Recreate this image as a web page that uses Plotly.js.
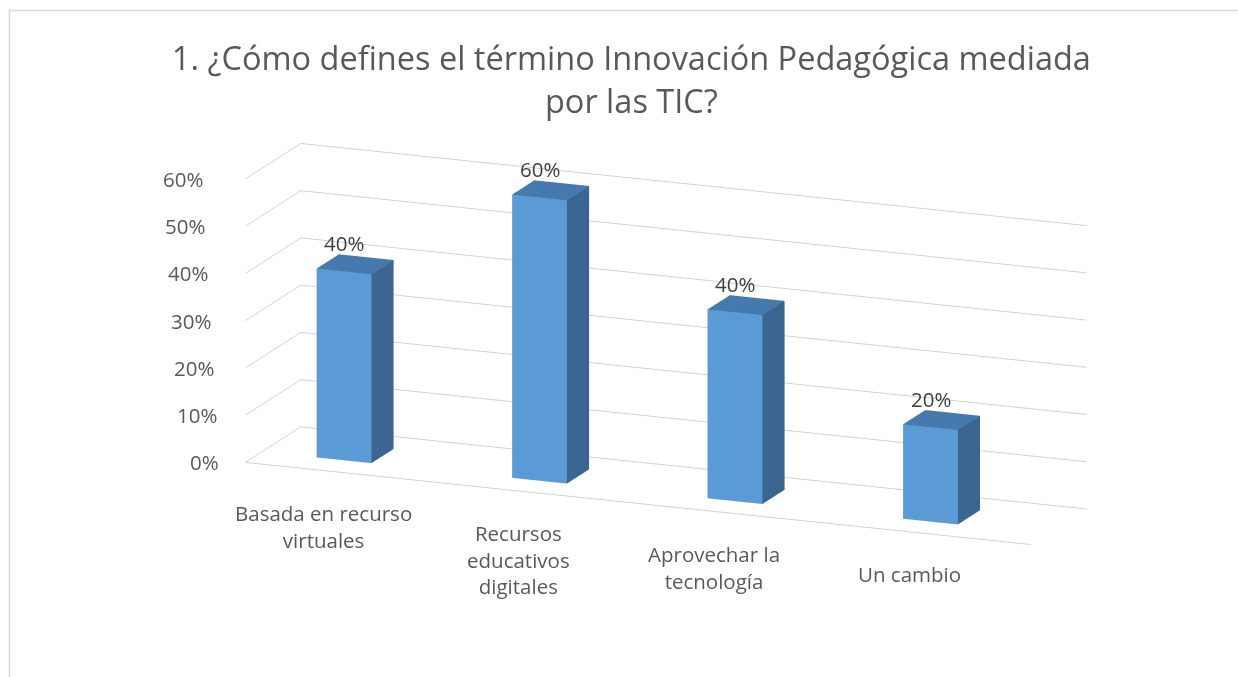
<!DOCTYPE html>
<html>
<head>
<meta charset="utf-8">
<script src="https://cdn.plot.ly/plotly-3.0.1.min.js"></script>
<style>html,body{margin:0;padding:0;background:#fff;overflow:hidden}#chart{width:1238px;height:677px}</style>
</head>
<body>
<div id="chart"></div>
<script>
// ---- data ----
const categories = ["Basada en recurso<br>virtuales", "Recursos<br>educativos<br>digitales", "Aprovechar la<br>tecnología", "Un cambio"];
const values = [0.4, 0.6, 0.4, 0.2];
const valueLabels = ["40%", "60%", "40%", "20%"];
const zTickVals = [0, 0.1, 0.2, 0.3, 0.4, 0.5, 0.6];
const zTickText = ["0%", "10%", "20%", "30%", "40%", "50%", "60%"];
const titleText = "1. ¿Cómo defines el término Innovación Pedagógica mediada<br>por las TIC?";

// ---- style ----
const FONT = "Open Sans, Lato, sans-serif";
const TXT = "#595959";
const GRID = "#d2d2d2";
const barHalfWidth = 0.14;          // category units
const depthLo = 0.3, depthHi = 0.7; // bar depth span on the depth axis (0..1)
const cFront = "#5b9bd5", cSide = "#3b6691", cTop = "#4679ae";

// build the 3D columns from the values
const X = [], Y = [], Z = [], I = [], J = [], K = [], FC = [];
values.forEach((v, idx) => {
  const c = idx + 0.5;
  const x0 = c - barHalfWidth, x1 = c + barHalfWidth;
  const b = X.length;
  const pts = [[x0,depthLo,0],[x1,depthLo,0],[x1,depthHi,0],[x0,depthHi,0],
               [x0,depthLo,v],[x1,depthLo,v],[x1,depthHi,v],[x0,depthHi,v]];
  pts.forEach(p => { X.push(p[0]); Y.push(p[1]); Z.push(p[2]); });
  const faces = [
    [0,1,5,cFront],[0,5,4,cFront],   // front
    [3,2,6,cFront],[3,6,7,cFront],   // back
    [0,3,7,cSide],[0,7,4,cSide],     // left
    [1,2,6,cSide],[1,6,5,cSide],     // right
    [4,5,6,cTop],[4,6,7,cTop],       // top
    [0,1,2,cFront],[0,2,3,cFront]    // bottom
  ];
  faces.forEach(f => { I.push(b+f[0]); J.push(b+f[1]); K.push(b+f[2]); FC.push(f[3]); });
});

const bars = {
  type: 'mesh3d', x: X, y: Y, z: Z, i: I, j: J, k: K,
  facecolor: FC, flatshading: true, hoverinfo: 'skip', showscale: false,
  lighting: {ambient: 1, diffuse: 0, specular: 0, roughness: 1, fresnel: 0}
};

const annotations = [];
zTickVals.forEach((t, idx) => {
  annotations.push({x: 0.08, y: 0, z: t, text: zTickText[idx], showarrow: false,
    xanchor: 'right', yanchor: 'middle', xshift: -24 - 28 * t,
    font: {family: FONT, size: 20.5, color: TXT}});
});
categories.forEach((cat, idx) => {
  annotations.push({x: idx + 0.5, y: 0, z: 0, text: cat, showarrow: false,
    xanchor: 'center', yanchor: 'top', xshift: -4, yshift: -26,
    font: {family: FONT, size: 20.5, color: TXT}});
  annotations.push({x: idx + 0.5, y: depthLo, z: values[idx], text: valueLabels[idx], showarrow: false,
    xanchor: 'center', yanchor: 'bottom', yshift: 12,
    font: {family: FONT, size: 20.5, color: '#404040'}});
});

const th = 22 * Math.PI / 180, ph = 15 * Math.PI / 180, dist = 2.97;
const axisOff = {showgrid: false, zeroline: false, showline: false, showticklabels: false, ticks: '',
                 title: {text: ''}, showspikes: false, showbackground: false};
const layout = {
  width: 1238, height: 677,
  margin: {l: 0, r: 0, t: 0, b: 0},
  paper_bgcolor: '#ffffff',
  showlegend: false,
  title: {text: titleText, x: 0.51, xanchor: 'center', y: 0.896, yanchor: 'top',
          font: {family: FONT, size: 32.5, color: TXT}},
  shapes: [{type: 'rect', xref: 'paper', yref: 'paper', x0: 9.5/1238, x1: 1.02, y0: -0.02, y1: 1 - 10.5/677,
            line: {color: '#d9d9d9', width: 1.5}}],
  scene: {
    domain: {x: [0.076, 1], y: [0, 0.984]},
    aspectmode: 'manual', aspectratio: {x: 2.545, y: 0.445, z: 0.881},
    bgcolor: 'rgba(0,0,0,0)',
    camera: {eye: {x: dist*Math.sin(th)*Math.cos(ph), y: -dist*Math.cos(th)*Math.cos(ph), z: dist*Math.sin(ph)},
             center: {x: 0, y: 0, z: 0}, up: {x: 0, y: 0, z: 1},
             projection: {type: 'orthographic'}},
    xaxis: Object.assign({}, axisOff, {range: [0.08, 4.1], showline: true, linecolor: GRID, linewidth: 2}),
    yaxis: Object.assign({}, axisOff, {range: [0, 1]}),
    zaxis: Object.assign({}, axisOff, {range: [0, 0.6], tickvals: zTickVals, ticktext: zTickText,
            showgrid: true, gridcolor: GRID, gridwidth: 2}),
    annotations: annotations
  }
};

Plotly.newPlot('chart', [bars], layout, {displayModeBar: false});
</script>
</body>
</html>
